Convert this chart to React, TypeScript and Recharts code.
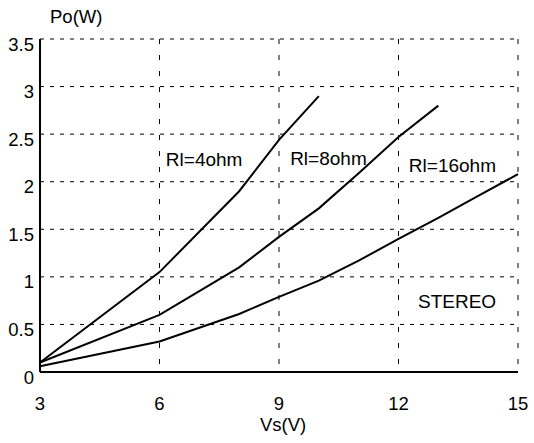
import { LineChart, Line, XAxis, YAxis, CartesianGrid, ReferenceDot } from "recharts";

const vs = [3, 6, 8, 9, 10, 11, 12, 13, 14, 15];
const rl4 = [0.1, 1.05, 1.9, 2.44, 2.9, null, null, null, null, null];
const rl8 = [0.1, 0.6, 1.1, 1.42, 1.72, 2.09, 2.47, 2.8, null, null];
const rl16 = [0.06, 0.32, 0.61, 0.79, 0.96, 1.17, 1.4, 1.62, 1.85, 2.08];

const xTicks = [3, 6, 9, 12, 15];
const yTicks = [0, 0.5, 1, 1.5, 2, 2.5, 3, 3.5];

const notes = [
  { text: "Rl=4ohm", x: 6.16, y: 2.16 },
  { text: "Rl=8ohm", x: 9.28, y: 2.18 },
  { text: "Rl=16ohm", x: 12.26, y: 2.1 },
  { text: "STEREO", x: 12.49, y: 0.67 },
];

const data = vs.map((v, i) => ({ vs: v, rl4: rl4[i], rl8: rl8[i], rl16: rl16[i] }));

const FONT = "Liberation Sans, Arial, sans-serif";

const XTick = (props: any) => {
  const { x, y, payload } = props;
  return (
    <text x={x} y={y + 36} textAnchor="middle" fontSize={18.5} fontFamily={FONT} fill="#000">
      {payload.value}
    </text>
  );
};

const YTick = (props: any) => {
  const { x, y, payload } = props;
  return (
    <text x={x - 4} y={y + 11.5} textAnchor="end" fontSize={18.5} fontFamily={FONT} fill="#000">
      {payload.value}
    </text>
  );
};

export default function App() {
  return (
    <div style={{ position: "absolute", left: 0, top: 0, background: "#fff" }}>
      <LineChart width={534} height={443} data={data} margin={{ top: 39, right: 16, bottom: 0, left: 0 }}>
        <CartesianGrid horizontal={false} stroke="#000" strokeDasharray="5 11" />
        <CartesianGrid vertical={false} stroke="#000" strokeDasharray="4 6" />
        <XAxis
          dataKey="vs"
          type="number"
          domain={[3, 15]}
          ticks={xTicks}
          height={71}
          tickLine={false}
          tickSize={0}
          axisLine={{ stroke: "#000", strokeWidth: 2 }}
          tick={<XTick />}
        />
        <XAxis xAxisId="top" orientation="top" dataKey="vs" type="number" domain={[3, 15]} height={0} tick={false} tickLine={false} axisLine={{ stroke: "#000", strokeWidth: 2 }} />
        <YAxis
          type="number"
          domain={[0, 3.5]}
          ticks={yTicks}
          width={40}
          tickLine={false}
          tickSize={0}
          axisLine={{ stroke: "#000", strokeWidth: 2 }}
          tick={<YTick />}
        />
        <YAxis yAxisId="right" orientation="right" domain={[0, 3.5]} width={0} tick={false} tickLine={false} axisLine={{ stroke: "#888", strokeWidth: 1.5 }} />
        <Line dataKey="rl4" stroke="#000" strokeWidth={2} dot={false} isAnimationActive={false} />
        <Line dataKey="rl8" stroke="#000" strokeWidth={2} dot={false} isAnimationActive={false} />
        <Line dataKey="rl16" stroke="#000" strokeWidth={2} dot={false} isAnimationActive={false} />
        {notes.map((n) => (
          <ReferenceDot
            key={n.text}
            x={n.x}
            y={n.y}
            r={0}
            shape={(p: any) => (
              <text x={p.cx} y={p.cy} fontSize={19} fontFamily={FONT} fill="#000">
                {n.text}
              </text>
            )}
          />
        ))}
        <text x={50} y={23} fontSize={18.5} fontFamily={FONT} fill="#000">Po(W)</text>
        <text x={260} y={431} fontSize={18.5} fontFamily={FONT} fill="#000">Vs(V)</text>
      </LineChart>
    </div>
  );
}
